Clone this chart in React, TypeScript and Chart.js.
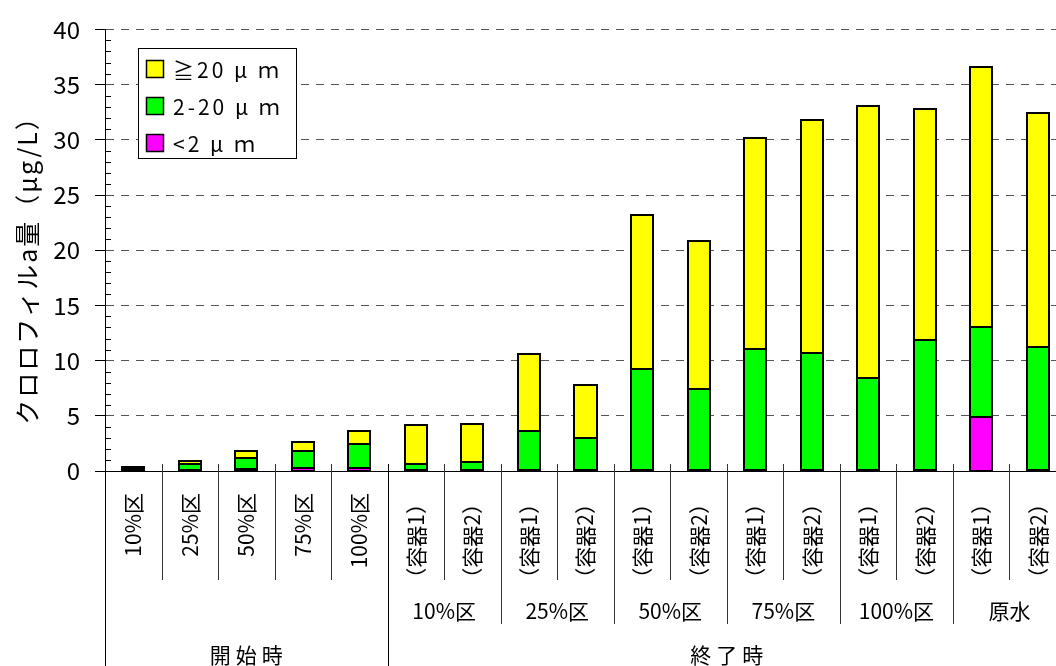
import React, { useEffect, useRef } from "react";
import { Chart, registerables } from "chart.js";

Chart.register(...registerables);

// ---- data ----
const categories = [
  "10%区", "25%区", "50%区", "75%区", "100%区",
  "（容器1）", "（容器2）", "（容器1）", "（容器2）", "（容器1）", "（容器2）",
  "（容器1）", "（容器2）", "（容器1）", "（容器2）", "（容器1）", "（容器2）",
];
const subGroups = ["10%区", "25%区", "50%区", "75%区", "100%区", "原水"];
const phases = ["開始時", "終了時"];
const phaseSizes = [5, 12];
const seriesLabels = ["<2 μ ｍ", "2-20 μ ｍ", "≧20 μ ｍ"];
const seriesColors = ["#FF00FF", "#00FF00", "#FFFF00"];

const lt2 = [0.05, 0.12, 0.15, 0.3, 0.3, 0.05, 0.05, 0.05, 0.05, 0.05, 0.05, 0.05, 0.05, 0.05, 0.05, 4.88, 0.05];
const mid = [0.2, 0.54, 1.0, 1.5, 2.16, 0.61, 0.79, 3.57, 2.92, 9.18, 7.38, 11.03, 10.67, 8.37, 11.84, 8.18, 11.19];
const gt20 = [0.12, 0.21, 0.68, 0.81, 1.13, 3.47, 3.44, 6.96, 4.82, 13.93, 13.4, 19.12, 21.04, 24.68, 20.86, 23.49, 21.18];

const yMin = 0;
const yMax = 40;
const yStep = 5;
const yTitle = "クロロフィルa量（μg/L）";

const FONT = '"Noto Sans CJK JP", "Noto Sans", sans-serif';

// Excel-like outlines: 2px stroke centred on every segment edge
const outlinePlugin = {
  id: "outline",
  afterDatasetsDraw(chart: any) {
    const ctx: CanvasRenderingContext2D = chart.ctx;
    ctx.save();
    ctx.strokeStyle = "#000";
    ctx.lineWidth = 2;
    chart.data.datasets.forEach((_ds: any, di: number) => {
      const meta = chart.getDatasetMeta(di);
      meta.data.forEach((el: any) => {
        const p = el.getProps(["x", "y", "base", "width"], true);
        const l = Math.round(p.x - p.width / 2);
        const r = Math.round(p.x + p.width / 2);
        const t = Math.round(Math.min(p.y, p.base));
        const b = Math.round(Math.max(p.y, p.base));
        ctx.strokeRect(l, t, r - l, b - t);
      });
    });
    ctx.restore();
  },
};

const overlayPlugin = {
  id: "overlay",
  afterDraw(chart: any) {
    const ctx: CanvasRenderingContext2D = chart.ctx;
    const xs = chart.scales.x;
    const ys = chart.scales.y;
    const area = chart.chartArea;
    const H = chart.height;
    const left = area.left;
    const bottom = area.bottom;
    const n = categories.length;
    const catW = xs.getPixelForValue(1) - xs.getPixelForValue(0);
    const edge = (i: number) => xs.getPixelForValue(0) - catW / 2 + i * catW;
    const crisp = (v: number) => Math.round(v) + 0.5;

    ctx.save();
    ctx.strokeStyle = "#000";
    ctx.lineWidth = 1;

    // minor ticks on y axis (inside)
    for (let v = yMin; v <= yMax; v += 1) {
      if (v % yStep === 0) continue;
      const py = crisp(ys.getPixelForValue(v));
      ctx.beginPath();
      ctx.moveTo(left, py);
      ctx.lineTo(left + 6, py);
      ctx.stroke();
    }

    // y axis extension into the label table
    ctx.beginPath();
    ctx.moveTo(crisp(left), bottom);
    ctx.lineTo(crisp(left), H);
    ctx.stroke();

    // separators
    const phaseEdge = phaseSizes[0];
    for (let i = 1; i < n; i++) {
      const px = crisp(edge(i));
      let y2 = 580;
      if (i === phaseEdge) y2 = H;
      else if (i > phaseEdge && (i - phaseEdge) % 2 === 0) y2 = 624;
      ctx.strokeStyle = i === phaseEdge ? "#000" : "#333";
      ctx.beginPath();
      ctx.moveTo(px, bottom - 7);
      ctx.lineTo(px, y2);
      ctx.stroke();
    }

    // level 1 labels (rotated)
    ctx.fillStyle = "#000";
    ctx.font = `21px ${FONT}`;
    ctx.textAlign = "right";
    ctx.textBaseline = "middle";
    for (let i = 0; i < n; i++) {
      ctx.save();
      ctx.translate(xs.getPixelForValue(i), 493);
      ctx.rotate(-Math.PI / 2);
      ctx.fillText(categories[i], 0, 0);
      ctx.restore();
    }

    // level 2 labels
    ctx.font = `21px ${FONT}`;
    ctx.textAlign = "center";
    subGroups.forEach((g, k) => {
      const a = edge(phaseEdge + 2 * k);
      const b = edge(phaseEdge + 2 * k + 2);
      ctx.fillText(g, (a + b) / 2, 611);
    });

    // level 3 labels
    ctx.font = `21px ${FONT}`;
    (ctx as any).letterSpacing = "5px";
    let start = 0;
    phases.forEach((p, k) => {
      const a = edge(start);
      const b = edge(start + phaseSizes[k]);
      ctx.fillText(p, (a + b) / 2 + 2.5, 655);
      start += phaseSizes[k];
    });
    (ctx as any).letterSpacing = "0px";

    // y title
    ctx.save();
    ctx.translate(27, 265);
    ctx.rotate(-Math.PI / 2);
    ctx.font = `25px ${FONT}`;
    (ctx as any).letterSpacing = "2px";
    ctx.textAlign = "center";
    ctx.textBaseline = "middle";
    ctx.fillText(yTitle, 1, 0);
    (ctx as any).letterSpacing = "0px";
    ctx.restore();

    // legend
    const lx = 138, ly = 48, lw = 158, lh = 110;
    ctx.fillStyle = "#fff";
    ctx.fillRect(lx, ly, lw, lh);
    ctx.strokeStyle = "#000";
    ctx.lineWidth = 1;
    ctx.strokeRect(lx + 0.5, ly + 0.5, lw, lh);
    const order = [2, 1, 0];
    ctx.font = `21px ${FONT}`;
    ctx.textAlign = "left";
    ctx.textBaseline = "middle";
    (ctx as any).letterSpacing = "3px";
    order.forEach((s, r) => {
      const cy = 69 + r * 37;
      ctx.fillStyle = seriesColors[s];
      ctx.fillRect(146, cy - 9, 18, 18);
      ctx.lineWidth = 1.5;
      ctx.strokeStyle = "#000";
      ctx.strokeRect(146.5, cy - 8.5, 17, 17);
      ctx.fillStyle = "#000";
      ctx.fillText(seriesLabels[s], 173, cy + 1);
    });
    (ctx as any).letterSpacing = "0px";

    ctx.restore();
  },
};

export default function App() {
  const ref = useRef<HTMLCanvasElement | null>(null);

  useEffect(() => {
    const canvas = ref.current;
    if (!canvas) return;
    const series = [lt2, mid, gt20];
    const chart = new Chart(canvas, {
      type: "bar",
      data: {
        labels: categories,
        datasets: series.map((d, k) => ({
          label: seriesLabels[k],
          data: d,
          backgroundColor: seriesColors[k],
          borderWidth: 0,
          inflateAmount: 0,
          categoryPercentage: 0.5,
          barPercentage: 0.78,
        })),
      },
      options: {
        responsive: false,
        animation: false,
        devicePixelRatio: 1,
        layout: { padding: { top: 26, left: 0, right: 0, bottom: 0 } },
        plugins: {
          legend: { display: false },
          tooltip: { enabled: false },
        },
        scales: {
          x: {
            stacked: true,
            grid: { display: false },
            ticks: { display: false },
            border: { display: true, color: "#000", width: 1 },
            afterFit(scale: any) {
              scale.height = 195;
            },
          },
          y: {
            stacked: true,
            min: yMin,
            max: yMax,
            ticks: {
              stepSize: yStep,
              color: "#000",
              padding: 15,
              font: { family: FONT, size: 24 },
            },
            grid: {
              color: (c: any) => (c.tick && c.tick.value === 0 ? "rgba(0,0,0,0)" : "#555"),
              lineWidth: 1,
              tickLength: 10,
              tickColor: "#000",
            },
            border: { display: true, color: "#000", width: 1, dash: [8, 7] },
            afterFit(scale: any) {
              scale.width = 105;
            },
          },
        },
      },
      plugins: [outlinePlugin, overlayPlugin],
    });
    return () => chart.destroy();
  }, []);

  return (
    <div
      style={{
        position: "fixed",
        left: 0,
        top: 0,
        width: 1056,
        height: 666,
        overflow: "hidden",
        background: "#fff",
      }}
    >
      <canvas ref={ref} width={1066} height={666} style={{ display: "block" }} />
    </div>
  );
}
